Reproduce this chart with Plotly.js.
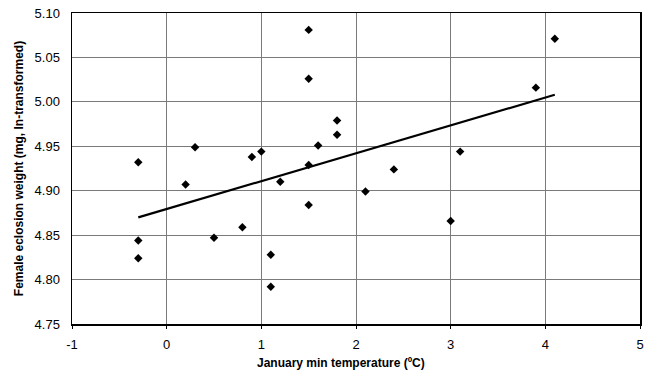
<!DOCTYPE html>
<html>
<head>
<meta charset="utf-8">
<script src="https://cdn.plot.ly/plotly-3.0.1.min.js"></script>
<style>html,body{margin:0;padding:0;background:#fff;}#chart{width:655px;height:376px;}</style>
</head>
<body>
<div id="chart"></div>
<script>
var tempX = [-0.3, -0.3, -0.3, 0.2, 0.3, 0.5, 0.8, 0.9, 1.0, 1.1, 1.1, 1.2, 1.5, 1.5, 1.5, 1.5, 1.6, 1.8, 1.8, 2.1, 2.4, 3.0, 3.1, 3.9, 4.1];
var weightY = [4.932, 4.844, 4.824, 4.907, 4.949, 4.847, 4.859, 4.938, 4.944, 4.828, 4.792, 4.910, 5.081, 5.026, 4.929, 4.884, 4.951, 4.979, 4.963, 4.899, 4.924, 4.866, 4.944, 5.016, 5.071];
var trendX = [-0.3, 4.1];
var trendY = [4.870, 5.008];
var xTicks = [-1, 0, 1, 2, 3, 4, 5];
var yTicks = [4.75, 4.80, 4.85, 4.90, 4.95, 5.00, 5.05, 5.10];

var font = "Liberation Sans, Arial, sans-serif";
var traces = [
  {x: trendX, y: trendY, mode: 'lines', line: {color: '#000', width: 2.2}, hoverinfo: 'skip'},
  {x: tempX, y: weightY, mode: 'markers', marker: {symbol: 'diamond', color: '#000', size: 6.5}}
];
var layout = {
  width: 655, height: 376,
  margin: {l: 72, r: 15, t: 13, b: 52},
  paper_bgcolor: '#fff', plot_bgcolor: '#fff',
  showlegend: false,
  font: {family: font, color: '#000', size: 13},
  xaxis: {
    range: [-1, 5], tickvals: xTicks, ticktext: xTicks.map(String),
    showgrid: true, gridcolor: '#7a7a7a', gridwidth: 1,
    zeroline: false, showline: true, linecolor: '#000', linewidth: 1.5, mirror: true,
    ticks: 'outside', ticklen: 3, tickcolor: '#000',
    ticklabelstandoff: 5,
    tickfont: {family: font, size: 13, color: '#000'}
  },
  yaxis: {
    range: [4.75, 5.10], tickvals: yTicks, ticktext: yTicks.map(function(v){return v.toFixed(2);}),
    showgrid: true, gridcolor: '#7a7a7a', gridwidth: 1,
    zeroline: false, showline: true, linecolor: '#000', linewidth: 1.5, mirror: true,
    ticks: '',
    ticklabelstandoff: 8,
    tickfont: {family: font, size: 13, color: '#000'},
    title: {text: '<b>Female eclosion weight (mg, ln-transformed)</b>', font: {family: font, size: 12, color: '#000'}, standoff: 8}
  },
  annotations: [{
    text: '<b>January min temperature (ºC)</b>', xref: 'paper', yref: 'paper',
    x: 0.4736, y: -0.124, xanchor: 'center', yanchor: 'middle', showarrow: false,
    font: {family: font, size: 12, color: '#000'}
  }]
};
Plotly.newPlot('chart', traces, layout, {displayModeBar: false, staticPlot: true});
</script>
</body>
</html>
